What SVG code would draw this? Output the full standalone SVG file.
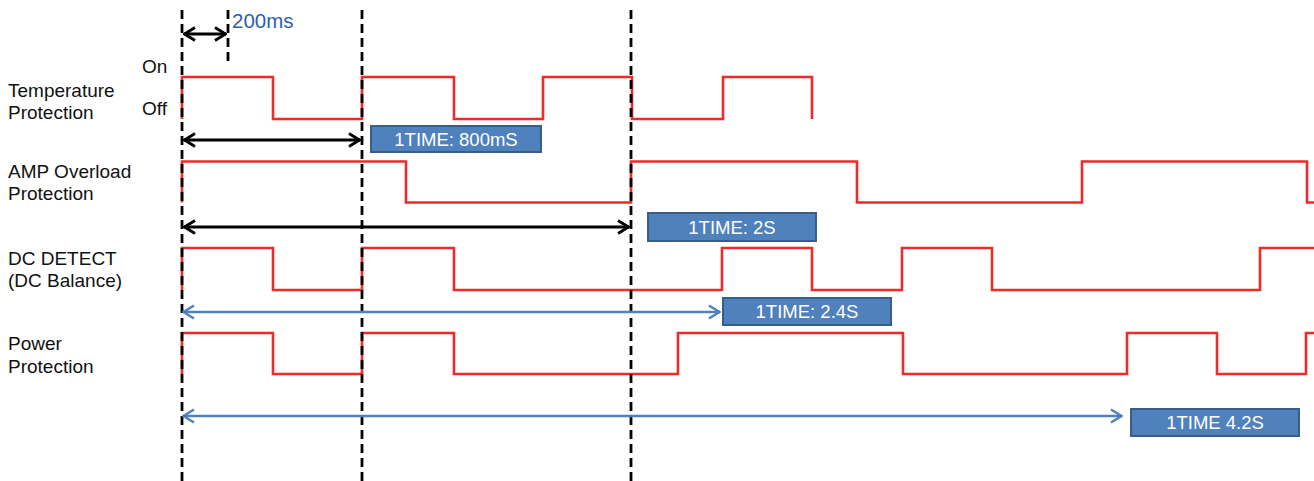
<svg xmlns="http://www.w3.org/2000/svg" width="1314" height="481" viewBox="0 0 1314 481">
<style>
.lbl{font-family:"Liberation Sans",Arial,sans-serif;font-size:19px;fill:#111}
.sig{fill:none;stroke:#ee2a2a;stroke-width:2.6;stroke-linejoin:miter}
.dash{stroke:#000;stroke-width:2.8;stroke-dasharray:9,5;fill:none}
.barr{stroke:#000;stroke-width:2.8;fill:none}
.blarr{stroke:#4f81bd;stroke-width:2.4;fill:none}
.box{fill:#4f81bd;stroke:#385d8a;stroke-width:2}
.btxt{font-family:"Liberation Sans",Arial,sans-serif;font-size:18.5px;fill:#fff;text-anchor:middle}
</style>
<defs>
<marker id="ab" markerWidth="14" markerHeight="16" viewBox="0 0 14 16" refX="13" refY="8" orient="auto-start-reverse" markerUnits="userSpaceOnUse">
<path d="M2,1.5 L12.5,8 L2,14.5" fill="none" stroke="#000" stroke-width="2.8"/>
</marker>
<marker id="au" markerWidth="14" markerHeight="16" viewBox="0 0 14 16" refX="13" refY="8" orient="auto-start-reverse" markerUnits="userSpaceOnUse">
<path d="M2,1.5 L12.5,8 L2,14.5" fill="none" stroke="#4f81bd" stroke-width="2.4"/>
</marker>
</defs>

<g id="labels">
<text class="lbl" x="8" y="97">Temperature</text>
<text class="lbl" x="8" y="119">Protection</text>
<text class="lbl" x="142" y="73">On</text>
<text class="lbl" x="142" y="115">Off</text>
<text class="lbl" x="8" y="178">AMP Overload</text>
<text class="lbl" x="8" y="200">Protection</text>
<text class="lbl" x="8" y="265">DC DETECT</text>
<text class="lbl" x="8" y="287">(DC Balance)</text>
<text class="lbl" x="8" y="350">Power</text>
<text class="lbl" x="8" y="373">Protection</text>
</g>

<g id="signals">
<path id="sig-temp" class="sig" d="M182,119 V77 H273 V119 H362 V77 H454 V119 H543 V77 H632 V119 H723 V77 H812 V119"/>
<path id="sig-amp" class="sig" d="M182,202.5 V161.5 H406 V202.5 H631 V161.5 H857 V202.5 H1082 V161.5 H1307 V202.5 H1314"/>
<path id="sig-dc" class="sig" d="M182,290 V248 H273 V290 H362 V248 H454 V290 H722 V248 H812 V290 H902 V248 H992 V290 H1260 V248 H1314"/>
<path id="sig-power" class="sig" d="M182,374 V333 H273 V374 H362 V333 H454 V374 H678 V333 H903 V374 H1127 V333 H1217 V374 H1306 V333 H1314"/>
</g>

<g id="gridlines">
<line class="dash" x1="182" y1="10" x2="182" y2="481"/>
<line class="dash" x1="228" y1="10" x2="228" y2="66"/>
<line class="dash" x1="362" y1="10" x2="362" y2="481"/>
<line class="dash" x1="631" y1="10" x2="631" y2="481"/>
</g>

<g id="connectors">
<line class="barr" x1="184" y1="34" x2="226" y2="34" marker-start="url(#ab)" marker-end="url(#ab)"/>
<line class="barr" x1="184" y1="140" x2="360" y2="140" marker-start="url(#ab)" marker-end="url(#ab)"/>
<line class="barr" x1="184" y1="227" x2="629" y2="227" marker-start="url(#ab)" marker-end="url(#ab)"/>
<line class="blarr" x1="183" y1="312" x2="720" y2="312" marker-start="url(#au)" marker-end="url(#au)"/>
<line class="blarr" x1="183" y1="416" x2="1122" y2="416" marker-start="url(#au)" marker-end="url(#au)"/>
</g>

<g id="t200">
<text x="232" y="28" font-family="Liberation Sans, Arial, sans-serif" font-size="20.5" fill="#2e5fae">200ms</text>
</g>

<g id="box800">
<rect class="box" x="371" y="126" width="170" height="26"/>
<text class="btxt" x="456" y="146">1TIME: 800mS</text>
</g>
<g id="box2s">
<rect class="box" x="648" y="213" width="168" height="28"/>
<text class="btxt" x="732" y="234">1TIME: 2S</text>
</g>
<g id="box24">
<rect class="box" x="723" y="298" width="168" height="27"/>
<text class="btxt" x="807" y="318">1TIME: 2.4S</text>
</g>
<g id="box42">
<rect class="box" x="1131" y="409" width="168" height="27"/>
<text class="btxt" x="1215" y="429">1TIME 4.2S</text>
</g>
</svg>
